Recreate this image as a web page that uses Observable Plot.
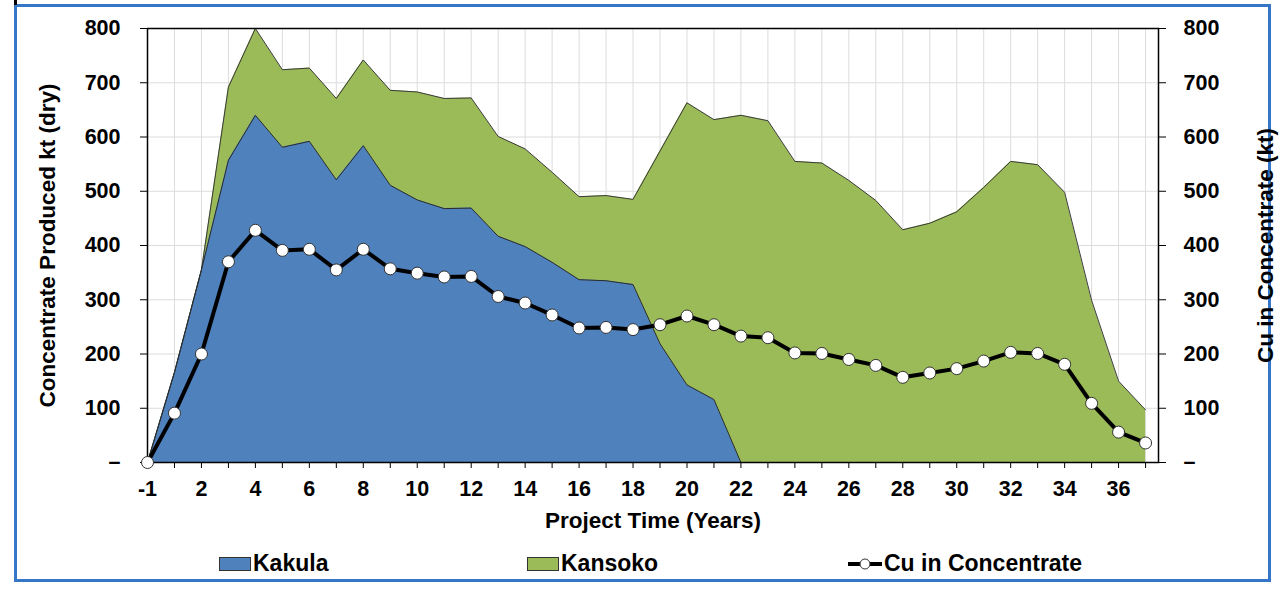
<!DOCTYPE html>
<html>
<head>
<meta charset="utf-8">
<script src="https://cdn.jsdelivr.net/npm/d3@7"></script>
<script src="https://cdn.jsdelivr.net/npm/@observablehq/plot@0.6"></script>
<style>
  html, body { margin: 0; padding: 0; background: #fff; }
  #wrap { position: relative; width: 1280px; height: 596px; overflow: hidden; font-family: "Liberation Sans", Arial, sans-serif; font-weight: bold; }
  #border { position: absolute; left: 14px; top: 4px; width: 1251px; height: 572px; border: 3px solid #3676c8; }
  #mark { position: absolute; left: 14px; top: 0; width: 3px; height: 5px; background: #000; }
  #chart { position: absolute; left: 0; top: 0; }
  .leg { position: absolute; font-size: 23px; color: #000; line-height: 23px; }
  .sw { position: absolute; width: 30px; height: 12px; border: 1px solid #333; }
</style>
</head>
<body>
<div id="wrap">
  <div id="border"></div>
  <div id="mark"></div>
  <div id="chart"></div>
  <div class="sw" style="left:219px; top:557px; background:#4f81bd;"></div>
  <div class="leg" style="left:253px; top:552px;">Kakula</div>
  <div class="sw" style="left:527px; top:557px; background:#9bbb59;"></div>
  <div class="leg" style="left:561px; top:552px;">Kansoko</div>
  <svg style="position:absolute; left:846px; top:554px;" width="40" height="20">
    <line x1="2" y1="10" x2="36" y2="10" stroke="#000" stroke-width="4"/>
    <circle cx="19" cy="10" r="5" fill="#fff" stroke="#333" stroke-width="1"/>
  </svg>
  <div class="leg" style="left:884px; top:552px;">Cu in Concentrate</div>
</div>
<script>
// Categories (project years); there is no year 0
const years = [-1, 1, 2, 3, 4, 5, 6, 7, 8, 9, 10, 11, 12, 13, 14, 15, 16, 17, 18, 19, 20, 21, 22, 23, 24, 25, 26, 27, 28, 29, 30, 31, 32, 33, 34, 35, 36, 37];

// Concentrate produced kt (dry)
const kakula = [0, 166, 355, 557, 640, 581, 592, 521, 584, 511, 484, 468, 469, 417, 398, 369, 337, 335, 328, 219, 143, 116, 0, 0, 0, 0, 0, 0, 0, 0, 0, 0, 0, 0, 0, 0, 0, 0];
const kansoko = [0, 0, 0, 135, 160, 143, 135, 150, 158, 175, 199, 203, 203, 184, 180, 166, 153, 157, 157, 355, 520, 516, 640, 630, 555, 552, 520, 483, 429, 441, 462, 507, 555, 549, 498, 299, 150, 97];

// Cu in concentrate (kt)
const cu = [0, 91, 200, 370, 428, 391, 393, 355, 393, 357, 349, 342, 343, 306, 294, 272, 248, 249, 245, 254, 270, 254, 233, 230, 202, 201, 190, 179, 157, 165, 173, 187, 203, 201, 181, 109, 56, 36];

const yTicks = [0, 100, 200, 300, 400, 500, 600, 700, 800];

const rows = years.map((yr, i) => ({
  i, year: yr,
  kakula: kakula[i],
  total: kakula[i] + kansoko[i],
  cu: cu[i]
}));
const idx = rows.map(r => r.i);

const tickFmt = d => d === 0 ? "–" : String(d);

const plot = Plot.plot({
  width: 1280,
  height: 540,
  marginLeft: 147,
  marginRight: 122,
  marginTop: 28,
  marginBottom: 78,
  style: {
    fontFamily: "'Liberation Sans', Arial, sans-serif",
    fontSize: "21.5px",
    fontWeight: "bold",
    color: "#000",
    background: "transparent",
    overflow: "visible"
  },
  x: { type: "linear", domain: [0, 37.48] },
  y: { domain: [0, 800] },
  marks: [
    Plot.gridX(idx, { stroke: "#dcdcdc", strokeOpacity: 1, strokeWidth: 1 }),
    Plot.gridY(yTicks.slice(1), { stroke: "#dcdcdc", strokeOpacity: 1, strokeWidth: 1 }),
    Plot.areaY(rows, { x: "i", y1: 0, y2: "total", fill: "#9bbb59" }),
    Plot.areaY(rows, { x: "i", y1: 0, y2: "kakula", fill: "#4f81bd" }),
    Plot.line(rows, { x: "i", y: "total", stroke: "#3a3a3a", strokeWidth: 1 }),
    Plot.line(rows, { x: "i", y: "kakula", stroke: "#2a2a2a", strokeWidth: 1 }),
    Plot.frame({ stroke: "#000", strokeWidth: 1.5 }),
    Plot.axisX({
      ticks: idx,
      tickFormat: i => (i % 2 === 0 ? String(years[i]) : ""),
      tickSize: 6,
      tickPadding: 12,
      label: null
    }),
    Plot.axisY({ anchor: "left", ticks: yTicks, tickFormat: tickFmt, tickSize: 7, tickPadding: 20, label: null }),
    Plot.axisY({ anchor: "right", ticks: yTicks, tickFormat: tickFmt, tickSize: 7, tickPadding: 18, label: null }),
    Plot.line(rows, { x: "i", y: "cu", stroke: "#000", strokeWidth: 4, strokeLinejoin: "round" }),
    Plot.dot(rows, { x: "i", y: "cu", r: 6, fill: "#fff", stroke: "#333", strokeWidth: 1 }),
    Plot.text(["Project Time (Years)"], { text: d => d, frameAnchor: "bottom", dy: 58, lineAnchor: "middle", textAnchor: "middle", fontSize: 22.5, fontWeight: "bold" }),
    Plot.text(["Concentrate Produced kt (dry)"], { text: d => d, frameAnchor: "left", dx: -100, rotate: -90, textAnchor: "middle", lineAnchor: "middle", fontSize: 22.5, fontWeight: "bold" }),
    Plot.text(["Cu in Concentrate (kt)"], { text: d => d, frameAnchor: "right", dx: 107, rotate: -90, textAnchor: "middle", lineAnchor: "middle", fontSize: 22.5, fontWeight: "bold" })
  ]
});
document.getElementById("chart").appendChild(plot);
</script>
</body>
</html>
